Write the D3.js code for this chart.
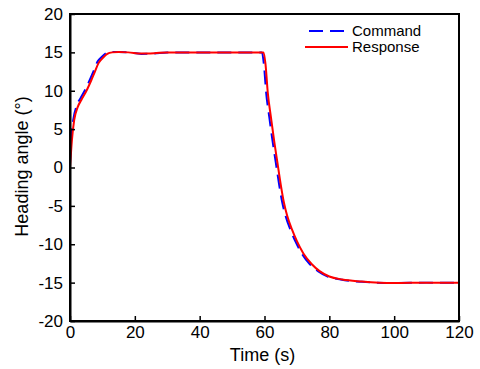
<!DOCTYPE html>
<html>
<head>
    <meta charset="utf-8">
    <title>Heading angle command vs response</title>
    <script src="https://d3js.org/d3.v7.min.js"></script>
    <style>
        body { margin: 0; background: #fff; }
        text { font-family: "Liberation Sans", Arial, sans-serif; }
    </style>
</head>
<body>
    <div id="chart"></div>
    <script>
        // data
        var seriesNames = ["Command", "Response"];
        var xTicks = [0, 20, 40, 60, 80, 100, 120];
        var yTicks = [-20, -15, -10, -5, 0, 5, 10, 15, 20];

        var cmdTime = [0, 0.3, 1.0, 2.1, 3.2, 4.9, 6.3, 7.2, 8.5, 10, 11.2, 12.5, 15, 18, 22, 26, 30, 40, 50, 59.2, 59.8, 60.5, 61.5, 62.5, 63.5, 64.5, 65.5, 66.5, 68, 69.5, 71.5, 74, 76.5, 79.5, 83.5, 90, 100, 110, 120];
        var cmdValue = [0.5, 3.6, 6.2, 8.1, 9.0, 10.3, 11.6, 12.5, 13.8, 14.5, 14.9, 15.05, 15.05, 15, 14.8, 14.85, 15, 15, 15, 15, 13.5, 9.8, 6.5, 3.4, 0.6, -2.2, -4.6, -6.3, -8.1, -9.6, -11.2, -12.6, -13.5, -14.2, -14.6, -14.9, -15.05, -15, -15];

        var respTime = [0, 0.6, 1.3, 2.4, 3.5, 5.2, 6.6, 7.5, 8.8, 10.4, 11.5, 13, 15, 18, 22, 26, 30, 40, 50, 59.7, 60.3, 61, 62, 63, 64, 65, 66, 67, 68.5, 70, 72, 74.6, 77, 80, 84, 90, 100, 110, 120];
        var respValue = [0, 3.6, 6.2, 7.9, 8.8, 10.1, 11.4, 12.3, 13.6, 14.4, 14.8, 15, 15.05, 15, 14.85, 14.9, 15, 15, 15, 15, 13.5, 9.8, 6.5, 3.4, 0.6, -2.2, -4.6, -6.3, -8.1, -9.6, -11.2, -12.6, -13.5, -14.2, -14.6, -14.85, -15.05, -15, -15];

        var margin = { top: 14, right: 21, bottom: 48, left: 70 };
        var width = 480 - margin.left - margin.right;
        var height = 369 - margin.top - margin.bottom;

        var svg = d3.select("#chart")
            .append("svg")
            .attr("width", 480)
            .attr("height", 369)
            .append("g")
            .attr("transform", `translate(${margin.left}, ${margin.top})`);

        var xScale = d3.scaleLinear().domain([0, 120]).range([0, width]);
        var yScale = d3.scaleLinear().domain([-20, 20]).range([height, 0]);

        var cmdData = cmdTime.map(function(t, i) { return [t, cmdValue[i]]; });
        var respData = respTime.map(function(t, i) { return [t, respValue[i]]; });

        var line = d3.line()
            .x(function(d) { return xScale(d[0]); })
            .y(function(d) { return yScale(d[1]); })
            .curve(d3.curveMonotoneX);

        svg.append("path")
            .datum(cmdData)
            .attr("d", line)
            .attr("fill", "none")
            .attr("stroke", "#0000ff")
            .attr("stroke-width", 2)
            .attr("stroke-dasharray", "14,7");

        svg.append("path")
            .datum(respData)
            .attr("d", line)
            .attr("fill", "none")
            .attr("stroke", "#ff0000")
            .attr("stroke-width", 2);

        // box
        svg.append("rect")
            .attr("width", width)
            .attr("height", height)
            .attr("fill", "none")
            .attr("stroke", "#000")
            .attr("stroke-width", 2);

        // plain hyphen for negatives, like the original
        var fmt = function(d) { return String(d); };

        var xAxis = d3.axisBottom(xScale).tickValues(xTicks).tickFormat(fmt)
            .tickSizeInner(-5).tickSizeOuter(0).tickPadding(5);
        var yAxis = d3.axisLeft(yScale).tickValues(yTicks).tickFormat(fmt)
            .tickSizeInner(-5).tickSizeOuter(0).tickPadding(7);

        var gx = svg.append("g")
            .attr("transform", `translate(0, ${height})`)
            .call(xAxis);
        var gy = svg.append("g").call(yAxis);

        [gx, gy].forEach(function(g) {
            g.select(".domain").attr("stroke", "#000").attr("stroke-width", 2);
            g.selectAll(".tick line").attr("stroke", "#000").attr("stroke-width", 1.5);
            g.selectAll(".tick text")
                .attr("fill", "#000")
                .style("font-size", "17px")
                .style("font-family", "'Liberation Sans', Arial, sans-serif");
        });

        svg.append("text")
            .attr("x", width / 2 - 2)
            .attr("y", height + 40)
            .attr("text-anchor", "middle")
            .style("font-size", "18px")
            .text("Time (s)");

        svg.append("text")
            .attr("transform", "rotate(-90)")
            .attr("x", -height / 2 + 1)
            .attr("y", -margin.left + 28)
            .attr("text-anchor", "middle")
            .style("font-size", "18px")
            .text("Heading angle (°)");

        // legend
        var legend = svg.append("g");
        var legendRows = [
            { name: seriesNames[0], color: "#0000ff", dash: "14,7", x1: 239, x2: 274, y: 17 },
            { name: seriesNames[1], color: "#ff0000", dash: null, x1: 235, x2: 278, y: 33 }
        ];
        legendRows.forEach(function(r) {
            legend.append("line")
                .attr("x1", r.x1).attr("x2", r.x2)
                .attr("y1", r.y).attr("y2", r.y)
                .attr("stroke", r.color)
                .attr("stroke-width", 2)
                .attr("stroke-dasharray", r.dash);
            legend.append("text")
                .attr("x", 282)
                .attr("y", r.y + 5)
                .style("font-size", "15px")
                .text(r.name);
        });
    </script>
</body>
</html>
